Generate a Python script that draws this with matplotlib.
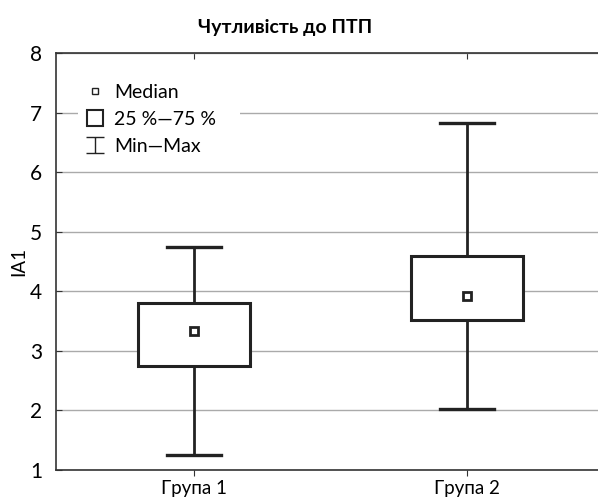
import matplotlib
matplotlib.use("Agg")
import matplotlib.pyplot as plt
from matplotlib.lines import Line2D
from matplotlib.path import Path

plt.rcParams['font.family'] = ['Lato', 'DejaVu Sans']

# data
groups = ['Група 1', 'Група 2']
medians = [3.34, 3.92]
q1 = [2.74, 3.52]
q3 = [3.81, 4.60]
mins = [1.26, 2.03]
maxs = [4.74, 6.82]

positions = [1, 2]
stats = []
for i in range(len(groups)):
    stats.append({'med': medians[i], 'q1': q1[i], 'q3': q3[i],
                  'whislo': mins[i], 'whishi': maxs[i], 'label': groups[i]})

fig = plt.figure(figsize=(5.98, 5.01), dpi=100)
ax = fig.add_axes([56/598, 31/501, 542/598, 417/501])

dark = '#222222'
ax.bxp(stats, positions=positions, widths=0.41, capwidths=0.2,
       showfliers=False, patch_artist=True,
       boxprops=dict(facecolor='white', edgecolor=dark, linewidth=2.2),
       whiskerprops=dict(color=dark, linewidth=2.0),
       capprops=dict(color=dark, linewidth=2.4),
       medianprops=dict(linewidth=0), zorder=3)
ax.plot(positions, medians, linestyle='none', marker='s', markersize=6,
        markerfacecolor='white', markeredgecolor=dark, markeredgewidth=2.0,
        zorder=4)

ax.set_xlim(0.4945, 2.48)
ax.set_ylim(1, 8)
ax.set_yticks(range(1, 9))
ax.set_xticks(positions)
ax.set_xticklabels(groups)
ax.yaxis.grid(True, color='#aaaaaa', linewidth=1.0)
ax.set_axisbelow(True)

for s in ['left', 'bottom', 'top']:
    ax.spines[s].set_color('#333333')
    ax.spines[s].set_linewidth(1.2)
ax.spines['right'].set_visible(False)

ax.tick_params(axis='y', direction='in', length=4, pad=10, labelsize=15,
               color='#333333')
ax.tick_params(axis='x', direction='out', length=4, pad=3, labelsize=13.5,
               color='#333333', top=True)
for t in ax.xaxis.get_major_ticks():
    t.tick2line.set_marker(3)  # pointing down into the axes

ax.set_ylabel('IA1', fontsize=13.5, labelpad=2)

fig.text(285/598, 1 - 27/501, 'Чутливість до ПТП', ha='center', va='center',
         fontsize=14, fontweight='bold')

# legend
ibeam = Path([(-1, 0.85), (1, 0.85), (0, 0.85), (0, -0.85), (-1, -0.85), (1, -0.85)],
             [Path.MOVETO, Path.LINETO, Path.MOVETO, Path.LINETO,
              Path.MOVETO, Path.LINETO])
handles = [
    Line2D([], [], linestyle='none', marker='s', markersize=5,
           markerfacecolor='white', markeredgecolor=dark, markeredgewidth=1.0),
    Line2D([], [], linestyle='none', marker='s', markersize=11,
           markerfacecolor='white', markeredgecolor=dark, markeredgewidth=1.5),
    Line2D([], [], linestyle='none', marker=ibeam, markersize=13.5,
           markeredgecolor=dark, markeredgewidth=1.0),
]
labels = ['Median', '25 %—75 %', 'Min—Max']
leg = ax.legend(handles, labels, loc='upper left',
                bbox_to_anchor=(22/542, 0.94, 162/542, 0.0), mode='expand',
                frameon=True, fancybox=False, edgecolor='none',
                facecolor='white', framealpha=1, fontsize=14,
                handlelength=1.1, handletextpad=0.45, labelspacing=0.52,
                borderpad=0.3, borderaxespad=0)
leg.set_zorder(5)

fig.savefig('out.png', dpi=100)
